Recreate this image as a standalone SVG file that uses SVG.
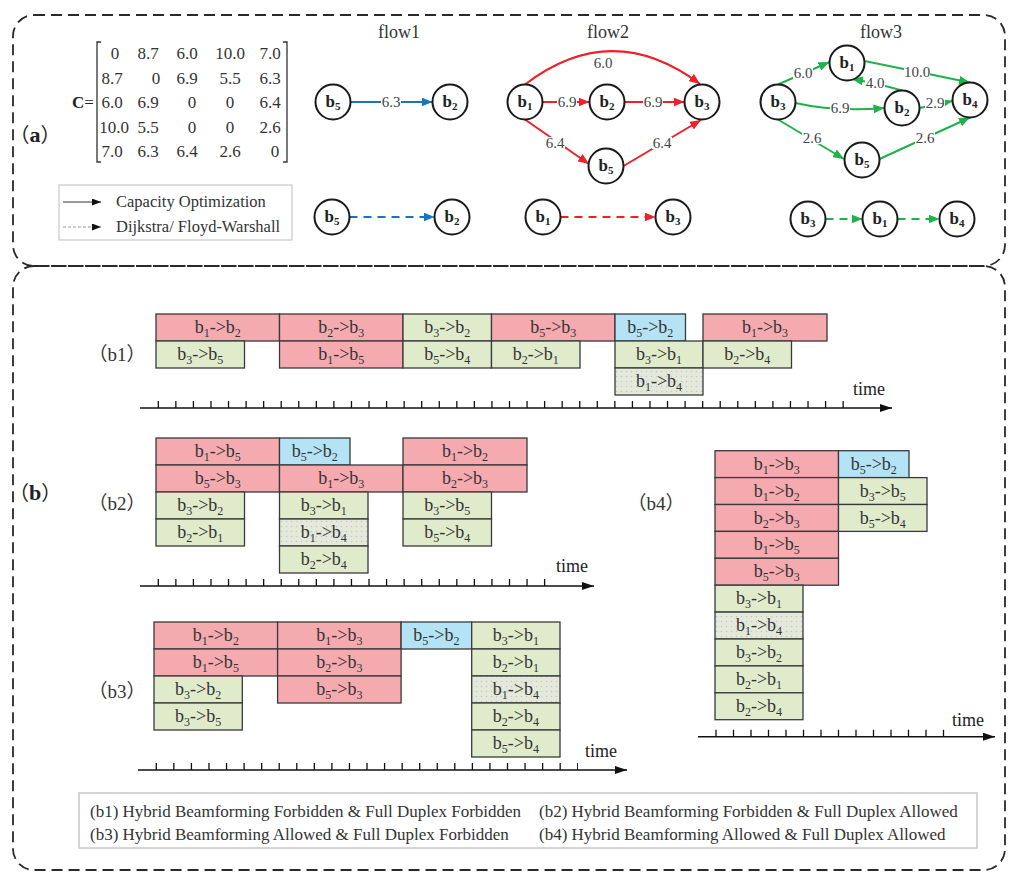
<svg xmlns="http://www.w3.org/2000/svg" width="1024" height="884" viewBox="0 0 1024 884">
<defs>
<style>
.pan{fill:none;stroke:#2a2a2a;stroke-width:1.8;stroke-dasharray:11 6}
.nd circle{fill:#fff;stroke:#1a1a1a;stroke-width:2}
.nl{font-family:"Liberation Serif",serif;font-weight:bold;font-size:17px;text-anchor:middle;fill:#222}
.ns{font-size:11px}
.el{font-family:"Liberation Serif",serif;font-size:15px;fill:#444;text-anchor:middle}
.lb{fill:#fff}
.ttl{font-family:"Liberation Serif",serif;font-size:18px;fill:#333;text-anchor:middle}
.mx{font-family:"Liberation Serif",serif;font-size:17px;fill:#333;text-anchor:middle}
.lg{font-family:"Liberation Serif",serif;font-size:16.5px;fill:#333}
.blg{font-family:"Liberation Serif",serif;font-size:17px;fill:#333}
.blk rect{stroke:#3a3a3a;stroke-width:1.3}
.r{fill:#F5AAB0}.g{fill:#DFEBCB}.b{fill:#B4E3F5}.d{fill:url(#dots)}
.bt{font-family:"Liberation Serif",serif;font-size:18px;fill:#333;text-anchor:middle}
.s{font-size:12px}
.ax{stroke:#111;stroke-width:1.4;fill:none}
.tk{stroke:#111;stroke-width:7;stroke-dasharray:1.3 16.26;fill:none}
.tm{font-family:"Liberation Serif",serif;font-size:18px;fill:#222}
.pl{font-family:"Liberation Serif","Noto Sans CJK SC",serif;font-size:19px;fill:#333;text-anchor:middle}
.eb{stroke:#1874C1;stroke-width:2;fill:none}
.er{stroke:#EE2028;stroke-width:2;fill:none}
.eg{stroke:#1DB34A;stroke-width:2;fill:none}
.dash{stroke-dasharray:8 6}
</style>
<marker id="aB" viewBox="0 0 11 9" refX="11" refY="4.5" markerWidth="11" markerHeight="9" markerUnits="userSpaceOnUse" orient="auto"><path d="M0,0 L11,4.5 L0,9 Z" fill="#1874C1"/></marker>
<marker id="aR" viewBox="0 0 11 9" refX="11" refY="4.5" markerWidth="11" markerHeight="9" markerUnits="userSpaceOnUse" orient="auto"><path d="M0,0 L11,4.5 L0,9 Z" fill="#EE2028"/></marker>
<marker id="aG" viewBox="0 0 11 9" refX="11" refY="4.5" markerWidth="11" markerHeight="9" markerUnits="userSpaceOnUse" orient="auto"><path d="M0,0 L11,4.5 L0,9 Z" fill="#1DB34A"/></marker>
<marker id="aK" viewBox="0 0 12 8" refX="12" refY="4" markerWidth="12" markerHeight="8" markerUnits="userSpaceOnUse" orient="auto"><path d="M0,0 L12,4 L0,8 Z" fill="#111"/></marker>
<marker id="aS" viewBox="0 0 9 7" refX="9" refY="3.5" markerWidth="9" markerHeight="7" markerUnits="userSpaceOnUse" orient="auto"><path d="M0,0 L9,3.5 L0,7 Z" fill="#111"/></marker>
<pattern id="dots" width="5" height="5" patternUnits="userSpaceOnUse"><rect width="5" height="5" fill="#E4EAD8"/><circle cx="1.5" cy="1.5" r="0.8" fill="#C9BFE0"/></pattern>
</defs>
<rect width="1024" height="884" fill="#fff"/>

<!-- panels -->
<rect class="pan" x="13" y="15" width="992" height="251" rx="21"/>
<rect class="pan" x="13" y="266" width="992" height="604" rx="21"/>

<!-- (a), (b) labels -->
<text x="35" y="142" text-anchor="middle" fill="#222" font-family="Liberation Serif, Noto Sans CJK SC, serif"><tspan font-size="20" font-family="Noto Sans CJK SC, sans-serif">（</tspan><tspan font-weight="bold" font-size="22">a</tspan><tspan font-size="20" font-family="Noto Sans CJK SC, sans-serif">）</tspan></text>
<text x="35" y="500" text-anchor="middle" fill="#222" font-family="Liberation Serif, Noto Sans CJK SC, serif"><tspan font-size="20" font-family="Noto Sans CJK SC, sans-serif">（</tspan><tspan font-weight="bold" font-size="22">b</tspan><tspan font-size="20" font-family="Noto Sans CJK SC, sans-serif">）</tspan></text>

<!-- matrix -->
<g id="matrix">
<text x="83" y="108" font-family="Liberation Serif, serif" font-size="17" fill="#222" text-anchor="middle"><tspan font-weight="bold">C</tspan>=</text>
<path d="M101,42 H97 V162 H101 M283,42 H287 V162 H283" fill="none" stroke="#333" stroke-width="1.3"/>
<text class="mx" x="115" y="59">0</text><text class="mx" x="148" y="59">8.7</text><text class="mx" x="187" y="59">6.0</text><text class="mx" x="230" y="59">10.0</text><text class="mx" x="270" y="59">7.0</text>
<text class="mx" x="112" y="83.5">8.7</text><text class="mx" x="156" y="83.5">0</text><text class="mx" x="187" y="83.5">6.9</text><text class="mx" x="230" y="83.5">5.5</text><text class="mx" x="270" y="83.5">6.3</text>
<text class="mx" x="112" y="108">6.0</text><text class="mx" x="148" y="108">6.9</text><text class="mx" x="192" y="108">0</text><text class="mx" x="230" y="108">0</text><text class="mx" x="270" y="108">6.4</text>
<text class="mx" x="114" y="132.5">10.0</text><text class="mx" x="148" y="132.5">5.5</text><text class="mx" x="192" y="132.5">0</text><text class="mx" x="230" y="132.5">0</text><text class="mx" x="270" y="132.5">2.6</text>
<text class="mx" x="112" y="157">7.0</text><text class="mx" x="148" y="157">6.3</text><text class="mx" x="187" y="157">6.4</text><text class="mx" x="230" y="157">2.6</text><text class="mx" x="275" y="157">0</text>
</g>

<!-- legend (a) -->
<g id="legend-a">
<rect x="59" y="185" width="233" height="55" fill="none" stroke="#c8c8c8" stroke-width="1.2"/>
<line x1="63" y1="202" x2="101" y2="202" stroke="#333" stroke-width="1" marker-end="url(#aS)"/>
<text class="lg" x="116" y="207">Capacity Optimization</text>
<line x1="63" y1="227" x2="101" y2="227" stroke="#999" stroke-width="1" stroke-dasharray="3 2" marker-end="url(#aS)"/>
<text class="lg" x="116" y="232">Dijkstra/ Floyd-Warshall</text>
</g>

<!-- titles -->
<text class="ttl" x="399" y="38">flow1</text>
<text class="ttl" x="608" y="38">flow2</text>
<text class="ttl" x="881" y="38">flow3</text>

<!-- connectors -->
<g id="connectors">
<line class="eb" x1="350.5" y1="102" x2="432.5" y2="102" marker-end="url(#aB)"/>
<line class="eb dash" x1="349.5" y1="217" x2="434.5" y2="217" marker-end="url(#aB)"/>
<path class="er" d="M525,84.5 Q612,18 700,84" marker-end="url(#aR)"/>
<line class="er" x1="542.5" y1="102" x2="589.5" y2="102" marker-end="url(#aR)"/>
<line class="er" x1="624.5" y1="102" x2="684.5" y2="102" marker-end="url(#aR)"/>
<line class="er" x1="525" y1="119.5" x2="589" y2="164" marker-end="url(#aR)"/>
<line class="er" x1="623.5" y1="166" x2="701" y2="120" marker-end="url(#aR)"/>
<line class="er dash" x1="560.5" y1="217" x2="655.5" y2="217" marker-end="url(#aR)"/>
<line class="eg" x1="778" y1="84.5" x2="829.5" y2="62" marker-end="url(#aG)"/>
<line class="eg" x1="864.5" y1="61" x2="970" y2="82.5" marker-end="url(#aG)"/>
<path class="eg" d="M902,90.5 Q880,84 852,79" marker-end="url(#aG)"/>
<path class="eg" d="M795.5,103 Q835,112 884.5,108" marker-end="url(#aG)"/>
<line class="eg" x1="919.5" y1="108" x2="952.5" y2="101" marker-end="url(#aG)"/>
<line class="eg" x1="778" y1="119.5" x2="844" y2="159" marker-end="url(#aG)"/>
<line class="eg" x1="879.5" y1="159" x2="970" y2="117.5" marker-end="url(#aG)"/>
<line class="eg dash" x1="825.5" y1="219" x2="862.5" y2="219" marker-end="url(#aG)"/>
<line class="eg dash" x1="897.5" y1="219" x2="939.5" y2="219" marker-end="url(#aG)"/>
<rect class="lb" x="381" y="96" width="20" height="12"/>
<rect class="lb" x="557" y="96" width="20" height="12"/>
<rect class="lb" x="643" y="96" width="20" height="12"/>
<rect class="lb" x="545" y="137" width="20" height="12"/>
<rect class="lb" x="652" y="137" width="20" height="12"/>
<rect class="lb" x="793" y="67" width="20" height="12"/>
<rect class="lb" x="904" y="66" width="26" height="12"/>
<rect class="lb" x="865" y="77" width="20" height="12"/>
<rect class="lb" x="830" y="102" width="20" height="12"/>
<rect class="lb" x="925" y="97" width="20" height="12"/>
<rect class="lb" x="802" y="132" width="20" height="12"/>
<rect class="lb" x="915" y="132" width="20" height="12"/>
<text class="el" x="391" y="107">6.3</text>
<text class="el" x="603" y="68">6.0</text>
<text class="el" x="567" y="107">6.9</text>
<text class="el" x="653" y="107">6.9</text>
<text class="el" x="555" y="148">6.4</text>
<text class="el" x="662" y="148">6.4</text>
<text class="el" x="803" y="78">6.0</text>
<text class="el" x="917" y="77">10.0</text>
<text class="el" x="875" y="88">4.0</text>
<text class="el" x="840" y="113">6.9</text>
<text class="el" x="935" y="108">2.9</text>
<text class="el" x="812" y="143">2.6</text>
<text class="el" x="925" y="143">2.6</text>
</g>

<!-- flow nodes -->
<g id="f1-b5" class="nd"><circle cx="333" cy="102" r="17.5"/><text class="nl" x="333" y="107">b<tspan class="ns" dy="3">5</tspan></text></g>
<g id="f1-b2" class="nd"><circle cx="450" cy="102" r="17.5"/><text class="nl" x="450" y="107">b<tspan class="ns" dy="3">2</tspan></text></g>
<g id="f1d-b5" class="nd"><circle cx="332" cy="217" r="17.5"/><text class="nl" x="332" y="222">b<tspan class="ns" dy="3">5</tspan></text></g>
<g id="f1d-b2" class="nd"><circle cx="452" cy="217" r="17.5"/><text class="nl" x="452" y="222">b<tspan class="ns" dy="3">2</tspan></text></g>

<g id="f2-b1" class="nd"><circle cx="525" cy="102" r="17.5"/><text class="nl" x="525" y="107">b<tspan class="ns" dy="3">1</tspan></text></g>
<g id="f2-b2" class="nd"><circle cx="607" cy="102" r="17.5"/><text class="nl" x="607" y="107">b<tspan class="ns" dy="3">2</tspan></text></g>
<g id="f2-b3" class="nd"><circle cx="702" cy="102" r="17.5"/><text class="nl" x="702" y="107">b<tspan class="ns" dy="3">3</tspan></text></g>
<g id="f2-b5" class="nd"><circle cx="606" cy="166" r="17.5"/><text class="nl" x="606" y="171">b<tspan class="ns" dy="3">5</tspan></text></g>
<g id="f2d-b1" class="nd"><circle cx="543" cy="217" r="17.5"/><text class="nl" x="543" y="222">b<tspan class="ns" dy="3">1</tspan></text></g>
<g id="f2d-b3" class="nd"><circle cx="673" cy="217" r="17.5"/><text class="nl" x="673" y="222">b<tspan class="ns" dy="3">3</tspan></text></g>

<g id="f3-b1" class="nd"><circle cx="847" cy="63" r="17.5"/><text class="nl" x="847" y="68">b<tspan class="ns" dy="3">1</tspan></text></g>
<g id="f3-b3" class="nd"><circle cx="778" cy="102" r="17.5"/><text class="nl" x="778" y="107">b<tspan class="ns" dy="3">3</tspan></text></g>
<g id="f3-b2" class="nd"><circle cx="902" cy="108" r="17.5"/><text class="nl" x="902" y="113">b<tspan class="ns" dy="3">2</tspan></text></g>
<g id="f3-b4" class="nd"><circle cx="970" cy="100" r="17.5"/><text class="nl" x="970" y="105">b<tspan class="ns" dy="3">4</tspan></text></g>
<g id="f3-b5" class="nd"><circle cx="862" cy="160" r="17.5"/><text class="nl" x="862" y="165">b<tspan class="ns" dy="3">5</tspan></text></g>
<g id="f3d-b3" class="nd"><circle cx="808" cy="219" r="17.5"/><text class="nl" x="808" y="224">b<tspan class="ns" dy="3">3</tspan></text></g>
<g id="f3d-b1" class="nd"><circle cx="880" cy="219" r="17.5"/><text class="nl" x="880" y="224">b<tspan class="ns" dy="3">1</tspan></text></g>
<g id="f3d-b4" class="nd"><circle cx="957" cy="219" r="17.5"/><text class="nl" x="957" y="224">b<tspan class="ns" dy="3">4</tspan></text></g>

<!-- ===== (b1) ===== -->
<text class="pl" x="117" y="361">（b1）</text>
<g id="b1-blocks" class="blk">
<g id="b1-r1-1"><rect class="r" x="156" y="314" width="123.5" height="27"/><text class="bt" x="217.75" y="333">b<tspan class="s" dy="4">1</tspan><tspan dy="-4">-&gt;b</tspan><tspan class="s" dy="4">2</tspan></text></g>
<g id="b1-r1-2"><rect class="r" x="279.5" y="314" width="123.5" height="27"/><text class="bt" x="341.25" y="333">b<tspan class="s" dy="4">2</tspan><tspan dy="-4">-&gt;b</tspan><tspan class="s" dy="4">3</tspan></text></g>
<g id="b1-r1-3"><rect class="g" x="403" y="314" width="88.5" height="27"/><text class="bt" x="447.25" y="333">b<tspan class="s" dy="4">3</tspan><tspan dy="-4">-&gt;b</tspan><tspan class="s" dy="4">2</tspan></text></g>
<g id="b1-r1-4"><rect class="r" x="491.5" y="314" width="123.5" height="27"/><text class="bt" x="553.25" y="333">b<tspan class="s" dy="4">5</tspan><tspan dy="-4">-&gt;b</tspan><tspan class="s" dy="4">3</tspan></text></g>
<g id="b1-r1-5"><rect class="b" x="615" y="314" width="70.5" height="27"/><text class="bt" x="650.25" y="333">b<tspan class="s" dy="4">5</tspan><tspan dy="-4">-&gt;b</tspan><tspan class="s" dy="4">2</tspan></text></g>
<g id="b1-r1-6"><rect class="r" x="703" y="314" width="124" height="27"/><text class="bt" x="765" y="333">b<tspan class="s" dy="4">1</tspan><tspan dy="-4">-&gt;b</tspan><tspan class="s" dy="4">3</tspan></text></g>
<g id="b1-r2-1"><rect class="g" x="156" y="341" width="88.5" height="27"/><text class="bt" x="200.25" y="360">b<tspan class="s" dy="4">3</tspan><tspan dy="-4">-&gt;b</tspan><tspan class="s" dy="4">5</tspan></text></g>
<g id="b1-r2-2"><rect class="r" x="279.5" y="341" width="123.5" height="27"/><text class="bt" x="341.25" y="360">b<tspan class="s" dy="4">1</tspan><tspan dy="-4">-&gt;b</tspan><tspan class="s" dy="4">5</tspan></text></g>
<g id="b1-r2-3"><rect class="g" x="403" y="341" width="88.5" height="27"/><text class="bt" x="447.25" y="360">b<tspan class="s" dy="4">5</tspan><tspan dy="-4">-&gt;b</tspan><tspan class="s" dy="4">4</tspan></text></g>
<g id="b1-r2-4"><rect class="g" x="491.5" y="341" width="88.5" height="27"/><text class="bt" x="535.75" y="360">b<tspan class="s" dy="4">2</tspan><tspan dy="-4">-&gt;b</tspan><tspan class="s" dy="4">1</tspan></text></g>
<g id="b1-r2-5"><rect class="g" x="615" y="341" width="88" height="27"/><text class="bt" x="659" y="360">b<tspan class="s" dy="4">3</tspan><tspan dy="-4">-&gt;b</tspan><tspan class="s" dy="4">1</tspan></text></g>
<g id="b1-r2-6"><rect class="g" x="703" y="341" width="88.5" height="27"/><text class="bt" x="747.25" y="360">b<tspan class="s" dy="4">2</tspan><tspan dy="-4">-&gt;b</tspan><tspan class="s" dy="4">4</tspan></text></g>
<g id="b1-r3-1"><rect class="d" x="615" y="368" width="88" height="27"/><text class="bt" x="659" y="387">b<tspan class="s" dy="4">1</tspan><tspan dy="-4">-&gt;b</tspan><tspan class="s" dy="4">4</tspan></text></g>
</g>
<g id="b1-axis">
<line class="ax" x1="140" y1="408" x2="892" y2="408" marker-end="url(#aK)"/>
<line class="tk" x1="157.65" y1="404.5" x2="845" y2="404.5"/>
<text class="tm" x="853" y="395">time</text>
</g>

<!-- ===== (b2) ===== -->
<text class="pl" x="117" y="510">（b2）</text>
<g id="b2-blocks" class="blk">
<g id="b2-r1-1"><rect class="r" x="156" y="438" width="123.5" height="27"/><text class="bt" x="217.75" y="457">b<tspan class="s" dy="4">1</tspan><tspan dy="-4">-&gt;b</tspan><tspan class="s" dy="4">5</tspan></text></g>
<g id="b2-r1-2"><rect class="b" x="279.5" y="438" width="70.5" height="27"/><text class="bt" x="314.75" y="457">b<tspan class="s" dy="4">5</tspan><tspan dy="-4">-&gt;b</tspan><tspan class="s" dy="4">2</tspan></text></g>
<g id="b2-r1-3"><rect class="r" x="403" y="438" width="124" height="27"/><text class="bt" x="465" y="457">b<tspan class="s" dy="4">1</tspan><tspan dy="-4">-&gt;b</tspan><tspan class="s" dy="4">2</tspan></text></g>
<g id="b2-r2-1"><rect class="r" x="156" y="465" width="123.5" height="27"/><text class="bt" x="217.75" y="484">b<tspan class="s" dy="4">5</tspan><tspan dy="-4">-&gt;b</tspan><tspan class="s" dy="4">3</tspan></text></g>
<g id="b2-r2-2"><rect class="r" x="279.5" y="465" width="123.5" height="27"/><text class="bt" x="341.25" y="484">b<tspan class="s" dy="4">1</tspan><tspan dy="-4">-&gt;b</tspan><tspan class="s" dy="4">3</tspan></text></g>
<g id="b2-r2-3"><rect class="r" x="403" y="465" width="124" height="27"/><text class="bt" x="465" y="484">b<tspan class="s" dy="4">2</tspan><tspan dy="-4">-&gt;b</tspan><tspan class="s" dy="4">3</tspan></text></g>
<g id="b2-r3-1"><rect class="g" x="156" y="492" width="88.5" height="27"/><text class="bt" x="200.25" y="511">b<tspan class="s" dy="4">3</tspan><tspan dy="-4">-&gt;b</tspan><tspan class="s" dy="4">2</tspan></text></g>
<g id="b2-r3-2"><rect class="g" x="279.5" y="492" width="88.5" height="27"/><text class="bt" x="323.75" y="511">b<tspan class="s" dy="4">3</tspan><tspan dy="-4">-&gt;b</tspan><tspan class="s" dy="4">1</tspan></text></g>
<g id="b2-r3-3"><rect class="g" x="403" y="492" width="88.5" height="27"/><text class="bt" x="447.25" y="511">b<tspan class="s" dy="4">3</tspan><tspan dy="-4">-&gt;b</tspan><tspan class="s" dy="4">5</tspan></text></g>
<g id="b2-r4-1"><rect class="g" x="156" y="519" width="88.5" height="27"/><text class="bt" x="200.25" y="538">b<tspan class="s" dy="4">2</tspan><tspan dy="-4">-&gt;b</tspan><tspan class="s" dy="4">1</tspan></text></g>
<g id="b2-r4-2"><rect class="d" x="279.5" y="519" width="88.5" height="27"/><text class="bt" x="323.75" y="538">b<tspan class="s" dy="4">1</tspan><tspan dy="-4">-&gt;b</tspan><tspan class="s" dy="4">4</tspan></text></g>
<g id="b2-r4-3"><rect class="g" x="403" y="519" width="88.5" height="27"/><text class="bt" x="447.25" y="538">b<tspan class="s" dy="4">5</tspan><tspan dy="-4">-&gt;b</tspan><tspan class="s" dy="4">4</tspan></text></g>
<g id="b2-r5-1"><rect class="g" x="279.5" y="546" width="88.5" height="27"/><text class="bt" x="323.75" y="565">b<tspan class="s" dy="4">2</tspan><tspan dy="-4">-&gt;b</tspan><tspan class="s" dy="4">4</tspan></text></g>
</g>
<g id="b2-axis">
<line class="ax" x1="140" y1="586" x2="594" y2="586" marker-end="url(#aK)"/>
<line class="tk" x1="157.65" y1="582.5" x2="546" y2="582.5"/>
<text class="tm" x="556" y="572">time</text>
</g>

<!-- ===== (b3) ===== -->
<text class="pl" x="117" y="698">（b3）</text>
<g id="b3-blocks" class="blk">
<g id="b3-r1-1"><rect class="r" x="154" y="622" width="123.6" height="27"/><text class="bt" x="215.8" y="641">b<tspan class="s" dy="4">1</tspan><tspan dy="-4">-&gt;b</tspan><tspan class="s" dy="4">2</tspan></text></g>
<g id="b3-r1-2"><rect class="r" x="277.6" y="622" width="123.5" height="27"/><text class="bt" x="339.35" y="641">b<tspan class="s" dy="4">1</tspan><tspan dy="-4">-&gt;b</tspan><tspan class="s" dy="4">3</tspan></text></g>
<g id="b3-r1-3"><rect class="b" x="401.1" y="622" width="70.6" height="27"/><text class="bt" x="436.4" y="641">b<tspan class="s" dy="4">5</tspan><tspan dy="-4">-&gt;b</tspan><tspan class="s" dy="4">2</tspan></text></g>
<g id="b3-r1-4"><rect class="g" x="471.7" y="622" width="88.3" height="27"/><text class="bt" x="515.85" y="641">b<tspan class="s" dy="4">3</tspan><tspan dy="-4">-&gt;b</tspan><tspan class="s" dy="4">1</tspan></text></g>
<g id="b3-r2-1"><rect class="r" x="154" y="649" width="123.6" height="27"/><text class="bt" x="215.8" y="668">b<tspan class="s" dy="4">1</tspan><tspan dy="-4">-&gt;b</tspan><tspan class="s" dy="4">5</tspan></text></g>
<g id="b3-r2-2"><rect class="r" x="277.6" y="649" width="123.5" height="27"/><text class="bt" x="339.35" y="668">b<tspan class="s" dy="4">2</tspan><tspan dy="-4">-&gt;b</tspan><tspan class="s" dy="4">3</tspan></text></g>
<g id="b3-r2-3"><rect class="g" x="471.7" y="649" width="88.3" height="27"/><text class="bt" x="515.85" y="668">b<tspan class="s" dy="4">2</tspan><tspan dy="-4">-&gt;b</tspan><tspan class="s" dy="4">1</tspan></text></g>
<g id="b3-r3-1"><rect class="g" x="154" y="676" width="88.3" height="27"/><text class="bt" x="198.15" y="695">b<tspan class="s" dy="4">3</tspan><tspan dy="-4">-&gt;b</tspan><tspan class="s" dy="4">2</tspan></text></g>
<g id="b3-r3-2"><rect class="r" x="277.6" y="676" width="123.5" height="27"/><text class="bt" x="339.35" y="695">b<tspan class="s" dy="4">5</tspan><tspan dy="-4">-&gt;b</tspan><tspan class="s" dy="4">3</tspan></text></g>
<g id="b3-r3-3"><rect class="d" x="471.7" y="676" width="88.3" height="27"/><text class="bt" x="515.85" y="695">b<tspan class="s" dy="4">1</tspan><tspan dy="-4">-&gt;b</tspan><tspan class="s" dy="4">4</tspan></text></g>
<g id="b3-r4-1"><rect class="g" x="154" y="703" width="88.3" height="27"/><text class="bt" x="198.15" y="722">b<tspan class="s" dy="4">3</tspan><tspan dy="-4">-&gt;b</tspan><tspan class="s" dy="4">5</tspan></text></g>
<g id="b3-r4-2"><rect class="g" x="471.7" y="703" width="88.3" height="27"/><text class="bt" x="515.85" y="722">b<tspan class="s" dy="4">2</tspan><tspan dy="-4">-&gt;b</tspan><tspan class="s" dy="4">4</tspan></text></g>
<g id="b3-r5-1"><rect class="g" x="471.7" y="730" width="88.3" height="27"/><text class="bt" x="515.85" y="749">b<tspan class="s" dy="4">5</tspan><tspan dy="-4">-&gt;b</tspan><tspan class="s" dy="4">4</tspan></text></g>
</g>
<g id="b3-axis">
<line class="ax" x1="138" y1="770" x2="627" y2="770" marker-end="url(#aK)"/>
<line class="tk" x1="155.65" y1="766.5" x2="578" y2="766.5"/>
<text class="tm" x="585" y="757">time</text>
</g>

<!-- ===== (b4) ===== -->
<text class="pl" x="656" y="510">（b4）</text>
<g id="b4-blocks" class="blk">
<g id="b4-c1-1"><rect class="r" x="715" y="450.7" width="123.5" height="26.9"/><text class="bt" x="776.75" y="469.7">b<tspan class="s" dy="4">1</tspan><tspan dy="-4">-&gt;b</tspan><tspan class="s" dy="4">3</tspan></text></g>
<g id="b4-c1-2"><rect class="r" x="715" y="477.6" width="123.5" height="26.9"/><text class="bt" x="776.75" y="496.6">b<tspan class="s" dy="4">1</tspan><tspan dy="-4">-&gt;b</tspan><tspan class="s" dy="4">2</tspan></text></g>
<g id="b4-c1-3"><rect class="r" x="715" y="504.5" width="123.5" height="26.9"/><text class="bt" x="776.75" y="523.5">b<tspan class="s" dy="4">2</tspan><tspan dy="-4">-&gt;b</tspan><tspan class="s" dy="4">3</tspan></text></g>
<g id="b4-c1-4"><rect class="r" x="715" y="531.4" width="123.5" height="26.9"/><text class="bt" x="776.75" y="550.4">b<tspan class="s" dy="4">1</tspan><tspan dy="-4">-&gt;b</tspan><tspan class="s" dy="4">5</tspan></text></g>
<g id="b4-c1-5"><rect class="r" x="715" y="558.3" width="123.5" height="26.9"/><text class="bt" x="776.75" y="577.3">b<tspan class="s" dy="4">5</tspan><tspan dy="-4">-&gt;b</tspan><tspan class="s" dy="4">3</tspan></text></g>
<g id="b4-c1-6"><rect class="g" x="715" y="585.2" width="88" height="26.9"/><text class="bt" x="759" y="604.2">b<tspan class="s" dy="4">3</tspan><tspan dy="-4">-&gt;b</tspan><tspan class="s" dy="4">1</tspan></text></g>
<g id="b4-c1-7"><rect class="d" x="715" y="612.1" width="88" height="26.9"/><text class="bt" x="759" y="631.1">b<tspan class="s" dy="4">1</tspan><tspan dy="-4">-&gt;b</tspan><tspan class="s" dy="4">4</tspan></text></g>
<g id="b4-c1-8"><rect class="g" x="715" y="639" width="88" height="26.9"/><text class="bt" x="759" y="658">b<tspan class="s" dy="4">3</tspan><tspan dy="-4">-&gt;b</tspan><tspan class="s" dy="4">2</tspan></text></g>
<g id="b4-c1-9"><rect class="g" x="715" y="665.9" width="88" height="26.9"/><text class="bt" x="759" y="684.9">b<tspan class="s" dy="4">2</tspan><tspan dy="-4">-&gt;b</tspan><tspan class="s" dy="4">1</tspan></text></g>
<g id="b4-c1-10"><rect class="g" x="715" y="692.8" width="88" height="26.9"/><text class="bt" x="759" y="711.8">b<tspan class="s" dy="4">2</tspan><tspan dy="-4">-&gt;b</tspan><tspan class="s" dy="4">4</tspan></text></g>
<g id="b4-c2-1"><rect class="b" x="838.5" y="450.7" width="70.5" height="26.9"/><text class="bt" x="873.75" y="469.7">b<tspan class="s" dy="4">5</tspan><tspan dy="-4">-&gt;b</tspan><tspan class="s" dy="4">2</tspan></text></g>
<g id="b4-c2-2"><rect class="g" x="838.5" y="477.6" width="88.5" height="26.9"/><text class="bt" x="882.75" y="496.6">b<tspan class="s" dy="4">3</tspan><tspan dy="-4">-&gt;b</tspan><tspan class="s" dy="4">5</tspan></text></g>
<g id="b4-c2-3"><rect class="g" x="838.5" y="504.5" width="88.5" height="26.9"/><text class="bt" x="882.75" y="523.5">b<tspan class="s" dy="4">5</tspan><tspan dy="-4">-&gt;b</tspan><tspan class="s" dy="4">4</tspan></text></g>
</g>
<g id="b4-axis">
<line class="ax" x1="698" y1="736.7" x2="995" y2="736.7" marker-end="url(#aK)"/>
<line class="tk" x1="715.35" y1="733.2" x2="945" y2="733.2" style="stroke-dasharray:1.3 16.2"/>
<text class="tm" x="952" y="726">time</text>
</g>

<!-- bottom legend -->
<g id="legend-b">
<rect x="79" y="793" width="898" height="55" fill="none" stroke="#c8c8c8" stroke-width="1.5"/>
<text class="blg" x="90" y="817">(b1) Hybrid Beamforming Forbidden &amp; Full Duplex Forbidden</text>
<text class="blg" x="539" y="817">(b2) Hybrid Beamforming Forbidden &amp; Full Duplex Allowed</text>
<text class="blg" x="90" y="840">(b3) Hybrid Beamforming Allowed &amp; Full Duplex Forbidden</text>
<text class="blg" x="539" y="840">(b4) Hybrid Beamforming Allowed &amp; Full Duplex Allowed</text>
</g>
</svg>
